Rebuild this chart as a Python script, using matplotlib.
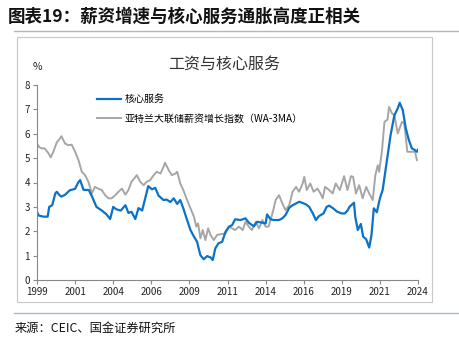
import matplotlib
matplotlib.use("Agg")
from matplotlib import pyplot as plt
from matplotlib.lines import Line2D
from matplotlib.patches import Rectangle

plt.rcParams['font.family'] = ['Noto Sans CJK SC', 'DejaVu Sans']

# 核心服务 (年份, %)
core_x = [1999.0, 1999.1, 1999.4, 1999.7, 1999.8, 2000.0, 2000.2, 2000.3, 2000.45, 2000.6,
          2000.85, 2001.15, 2001.5, 2001.7, 2001.83, 2002.05, 2002.4, 2002.6, 2002.9, 2003.25,
          2003.55, 2003.8, 2004.0, 2004.2, 2004.5, 2004.8, 2005.0, 2005.2, 2005.45, 2005.66,
          2005.9, 2006.1, 2006.3, 2006.55, 2006.76, 2006.98, 2007.3, 2007.5, 2007.75, 2007.97,
          2008.2, 2008.4, 2008.6, 2008.85, 2009.07, 2009.3, 2009.5, 2009.72, 2009.94, 2010.16,
          2010.38, 2010.53, 2010.7, 2010.9, 2011.15, 2011.37, 2011.6, 2011.8, 2012.0, 2012.35,
          2012.68, 2012.9, 2013.23, 2013.45, 2013.79, 2014.0, 2014.1, 2014.33, 2014.55, 2014.88,
          2015.1, 2015.3, 2015.55, 2015.77, 2016.0, 2016.2, 2016.43, 2016.65, 2016.86, 2017.1,
          2017.3, 2017.5, 2017.8, 2018.0, 2018.17, 2018.43, 2018.7, 2019.0, 2019.2, 2019.4,
          2019.5, 2019.8, 2019.88, 2020.05, 2020.25, 2020.4, 2020.6, 2020.8, 2020.95, 2021.1,
          2021.3, 2021.5, 2021.68, 2021.9, 2022.2, 2022.45, 2022.67, 2022.8, 2023.0, 2023.2,
          2023.4, 2023.6, 2023.8, 2023.93, 2024.0]
core_v = [2.8, 2.65, 2.6, 2.6, 3.0, 3.07, 3.55, 3.62, 3.5, 3.42,
          3.5, 3.68, 3.74, 4.0, 4.1, 3.7, 3.69, 3.44, 3.0, 2.85,
          2.7, 2.5, 3.0, 2.9, 2.85, 3.07, 2.75, 2.8, 2.5, 2.95,
          2.85, 3.35, 3.85, 3.72, 3.78, 3.46, 3.28, 3.3, 3.2, 3.35,
          3.12, 3.28, 2.94, 2.46, 2.05, 1.78, 1.57, 1.02, 0.85, 0.98,
          0.93, 0.82, 1.3, 1.5, 1.57, 1.98, 2.19, 2.25, 2.49, 2.46,
          2.53, 2.35, 2.2, 2.39, 2.35, 2.32, 2.69, 2.49, 2.46, 2.46,
          2.53, 2.66, 2.96, 3.07, 3.14, 3.21, 3.16, 3.1, 3.0, 2.73,
          2.46, 2.62, 2.73, 3.0, 3.05, 2.94, 2.8, 2.73, 2.73, 2.87,
          3.0, 3.17, 2.6, 2.05, 2.3, 1.78, 1.67, 1.33, 1.85, 2.94,
          2.78, 3.35, 3.69, 4.64, 5.94, 6.76, 7.04, 7.27, 6.97, 6.22,
          5.74, 5.4, 5.33, 5.26, 5.35]

# 亚特兰大联储薪资增长指数 (WA-3MA)
wage_x = [1999.0, 1999.15, 1999.3, 1999.5, 1999.75, 1999.9, 2000.07, 2000.3, 2000.5, 2000.6,
          2000.84, 2001.06, 2001.28, 2001.5, 2001.72, 2001.94, 2002.16, 2002.37, 2002.6, 2002.8,
          2003.0, 2003.25, 2003.47, 2003.7, 2003.9, 2004.13, 2004.35, 2004.57, 2004.8, 2005.0,
          2005.2, 2005.55, 2005.77, 2006.0, 2006.2, 2006.43, 2006.65, 2006.86, 2007.1, 2007.3,
          2007.4, 2007.65, 2007.85, 2008.1, 2008.2, 2008.4, 2008.6, 2008.85, 2009.07, 2009.3,
          2009.45, 2009.57, 2009.72, 2009.88, 2010.05, 2010.23, 2010.38, 2010.6, 2010.82, 2011.04,
          2011.37, 2011.6, 2011.8, 2012.0, 2012.25, 2012.5, 2012.68, 2012.9, 2013.1, 2013.35,
          2013.57, 2013.79, 2014.0, 2014.2, 2014.45, 2014.66, 2014.88, 2015.1, 2015.3, 2015.55,
          2015.77, 2016.0, 2016.2, 2016.43, 2016.54, 2016.7, 2016.93, 2017.15, 2017.4, 2017.6,
          2017.75, 2017.9, 2018.17, 2018.4, 2018.6, 2018.87, 2019.15, 2019.37, 2019.6, 2019.74,
          2019.93, 2020.14, 2020.37, 2020.6, 2020.8, 2021.03, 2021.2, 2021.36, 2021.45, 2021.63,
          2021.8, 2022.0, 2022.1, 2022.3, 2022.45, 2022.67, 2022.95, 2023.1, 2023.3, 2023.6,
          2023.8, 2023.93]
wage_v = [5.6, 5.45, 5.4, 5.4, 5.2, 5.03, 5.26, 5.65, 5.8, 5.9,
          5.6, 5.53, 5.55, 5.26, 4.92, 4.44, 4.3, 4.03, 3.55, 3.82,
          3.75, 3.69, 3.48, 3.35, 3.35, 3.48, 3.62, 3.75, 3.5, 3.69,
          4.03, 4.3, 4.03, 3.89, 4.03, 4.1, 4.3, 4.44, 4.37, 4.64,
          4.81, 4.5, 4.3, 4.37, 4.44, 3.96, 3.69, 3.28, 2.94, 2.6,
          2.19, 2.32, 1.71, 2.05, 1.64, 2.12, 1.85, 1.64, 1.85, 1.88,
          1.91, 2.19, 2.12, 2.05, 2.19, 2.05, 2.39, 2.19, 2.05, 2.39,
          2.12, 2.46, 2.19, 2.19, 2.73, 3.28, 3.48, 3.14, 2.87, 3.07,
          3.62, 3.82, 3.62, 3.96, 4.23, 3.69, 3.96, 3.62, 3.75, 3.55,
          3.35, 3.82, 3.69, 3.55, 3.96, 3.69, 4.26, 3.69, 4.26, 4.23,
          3.55, 3.89, 3.35, 3.82, 3.55, 3.28, 4.3, 4.71, 4.44, 5.26,
          6.49, 6.58, 7.1, 6.83, 6.76, 6.01, 6.49, 6.42, 5.26, 5.26,
          5.26, 4.92]

tick_pos = [1999, 2001.5, 2004, 2006.5, 2009, 2011.5, 2014, 2016.5, 2019, 2021.5, 2024]
tick_labels = ['1999', '2001', '2004', '2006', '2009', '2011', '2014', '2016', '2019', '2021', '2024']

W, H = 459, 339
fig = plt.figure(figsize=(W / 100, H / 100), dpi=100)

# 外框和分隔线
fig.patches.append(Rectangle((17 / W, 1 - 302 / H), (432 - 17) / W, (302 - 37) / H,
                             transform=fig.transFigure, fill=False, edgecolor='#c8c8c8', lw=0.8))
fig.lines.append(Line2D([14 / W, 1], [1 - 31 / H] * 2, transform=fig.transFigure, color='#a9b9c9', lw=1.0))
fig.lines.append(Line2D([14 / W, 1], [1 - 313 / H] * 2, transform=fig.transFigure, color='#a9b9c9', lw=1.0))

ax = fig.add_axes([37 / W, 1 - 280 / H, (418 - 37) / W, (280 - 85) / H])
ax.plot(wage_x, wage_v, color='#a6a6a6', lw=1.4, label='亚特兰大联储薪资增长指数（WA-3MA）')
ax.plot(core_x, core_v, color='#0b72c6', lw=1.6, label='核心服务')

ax.set_xlim(1999, 2024)
ax.set_ylim(0, 8)
ax.set_yticks(range(0, 9))
ax.set_xticks(tick_pos)
ax.set_xticklabels(tick_labels)
ax.tick_params(axis='both', direction='out', length=3, width=0.8, color='#888888',
               labelsize=7, labelcolor='#222222', pad=2)
for s in ['top', 'right']:
    ax.spines[s].set_visible(False)
for s in ['left', 'bottom']:
    ax.spines[s].set_color('#888888')
    ax.spines[s].set_linewidth(0.8)

h, l = ax.get_legend_handles_labels()
ax.legend(h[::-1], l[::-1], loc='upper left', bbox_to_anchor=(0.135, 1.0), frameon=False,
          fontsize=7.2, handlelength=2.4, handletextpad=0.35, labelspacing=0.95)

fig.text(37 / W, 1 - 67 / H, '%', ha='center', va='center', fontsize=7.5, color='#222222')
fig.text(224.5 / W, 1 - 64 / H, '工资与核心服务', ha='center', va='center', fontsize=11.5, color='#333333')
fig.text(8 / W, 1 - 17 / H, '图表19：薪资增速与核心服务通胀高度正相关', ha='left', va='center',
         fontsize=12.6, fontweight='bold', color='#111111')
fig.text(15 / W, 1 - 328 / H, '来源：CEIC、国金证券研究所', ha='left', va='center', fontsize=8.8, color='#111111')

fig.savefig('out.png', dpi=100)
